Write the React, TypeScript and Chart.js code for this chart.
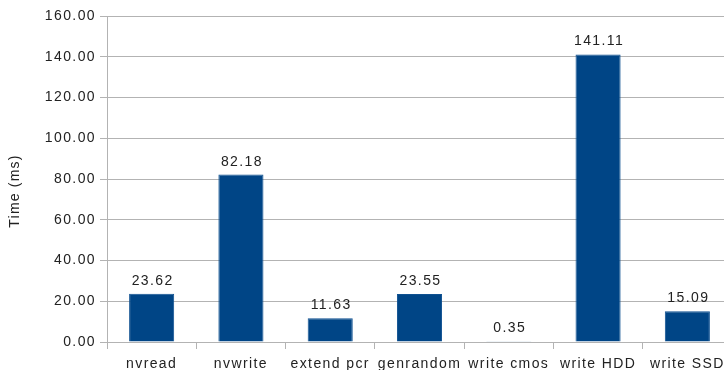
import React, { useEffect, useRef } from "react";
import { Chart, registerables } from "chart.js";

Chart.register(...registerables);

const categories = ["nvread", "nvwrite", "extend pcr", "genrandom", "write cmos", "write HDD", "write SSD"];
const times = [23.62, 82.18, 11.63, 23.55, 0.35, 141.11, 15.09];
const yTitle = "Time (ms)";
const yMin = 0;
const yMax = 160;
const yStep = 20;

const FONT = "'Liberation Sans', Arial, sans-serif";
const TEXT = "#222222";
const GRID = "#b3b3b3";
const BAR = "#004586";
const SPACING = "1.4px";

const spacingPlugin = {
  id: "spacing",
  beforeUpdate(chart: any) {
    chart.ctx.letterSpacing = SPACING;
  },
  beforeDraw(chart: any) {
    chart.ctx.letterSpacing = SPACING;
  },
};

const labelsPlugin = {
  id: "valueLabels",
  afterDatasetsDraw(chart: any) {
    const ctx = chart.ctx;
    const meta = chart.getDatasetMeta(0);
    ctx.save();
    ctx.letterSpacing = SPACING;
    ctx.font = `14px ${FONT}`;
    ctx.fillStyle = TEXT;
    ctx.textAlign = "center";
    ctx.textBaseline = "alphabetic";
    meta.data.forEach((bar: any, i: number) => {
      const v = chart.data.datasets[0].data[i] as number;
      ctx.fillText(v.toFixed(2), bar.x + 1, bar.y - 9);
    });
    // y axis title
    ctx.letterSpacing = "1.2px";
    ctx.translate(15, 191);
    ctx.rotate(-Math.PI / 2);
    ctx.textBaseline = "middle";
    ctx.fillText(yTitle, 0, 0);
    ctx.restore();
  },
};

export default function App() {
  const ref = useRef<HTMLCanvasElement>(null);
  useEffect(() => {
    document.body.style.overflow = "hidden";
    const chart = new Chart(ref.current!, {
      type: "bar",
      data: {
        labels: categories,
        datasets: [
          {
            data: times,
            backgroundColor: BAR,
            borderColor: "#0f5191",
            borderWidth: 1,
            categoryPercentage: 1,
            barPercentage: 0.505,
          },
        ],
      },
      options: {
        animation: false,
        responsive: false,
        devicePixelRatio: 1,
        layout: { padding: { top: 16, right: 1, left: 0, bottom: 0 } },
        plugins: { legend: { display: false }, tooltip: { enabled: false } },
        scales: {
          y: {
            min: yMin,
            max: yMax,
            ticks: {
              stepSize: yStep,
              callback: (v: any) => Number(v).toFixed(2),
              font: { family: FONT, size: 14 },
              color: TEXT,
              padding: 4,
            },
            grid: { color: GRID, tickLength: 7, lineWidth: 1 },
            border: { color: GRID },
            afterFit: (s: any) => {
              s.width = 107;
            },
          },
          x: {
            ticks: {
              font: { family: FONT, size: 14 },
              color: TEXT,
              padding: 6.5,
              maxRotation: 0,
              autoSkip: false,
            },
            grid: { offset: true, drawOnChartArea: false, color: GRID, tickLength: 7 },
            border: { color: GRID },
            afterFit: (s: any) => {
              s.height = 28;
            },
          },
        },
      },
      plugins: [spacingPlugin, labelsPlugin],
    });
    return () => chart.destroy();
  }, []);
  return (
    <div style={{ position: "fixed", left: 0, top: 0, width: 733, height: 370, background: "#fff" }}>
      <canvas ref={ref} width={733} height={370} style={{ display: "block", width: 733, height: 370 }} />
    </div>
  );
}
